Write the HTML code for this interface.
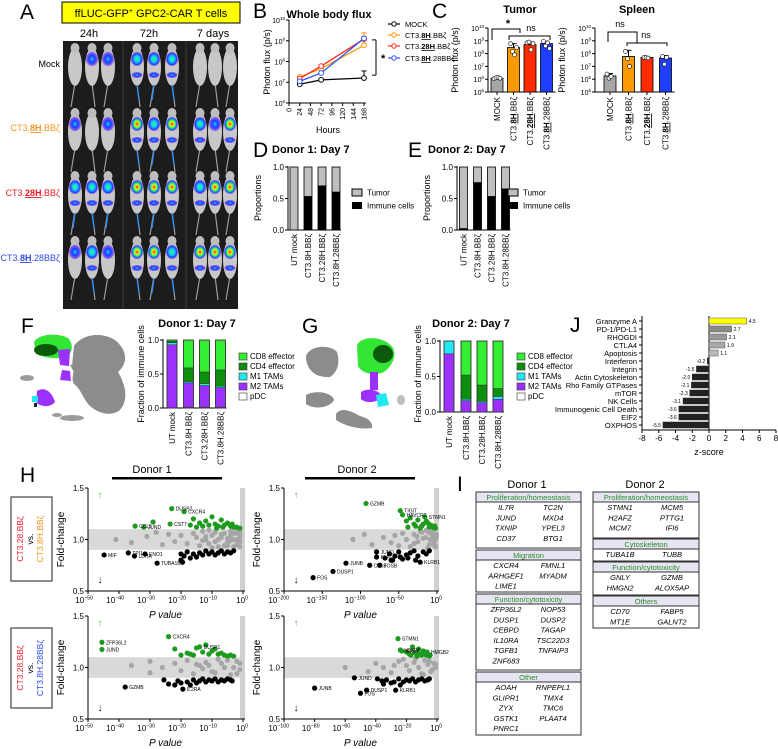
<!DOCTYPE html>
<html><head><meta charset="utf-8">
<style>
html,body{margin:0;padding:0;background:#fff;}
svg{display:block;font-family:"Liberation Sans",sans-serif;}
</style></head>
<body>
<svg id="fig" xmlns="http://www.w3.org/2000/svg" width="778" height="749" viewBox="0 0 778 749">
<defs>
<radialGradient id="gWeak"><stop offset="0" stop-color="#1ec8ff"/><stop offset="0.5" stop-color="#1a3cff"/><stop offset="1" stop-color="#7a2cff" stop-opacity="0.6"/></radialGradient>
<radialGradient id="gMed"><stop offset="0" stop-color="#38ff60"/><stop offset="0.45" stop-color="#10c8ff"/><stop offset="0.8" stop-color="#2040ff"/><stop offset="1" stop-color="#8030ff" stop-opacity="0.6"/></radialGradient>
<radialGradient id="gStrong"><stop offset="0" stop-color="#ff1010"/><stop offset="0.3" stop-color="#ffe020"/><stop offset="0.55" stop-color="#30ff50"/><stop offset="0.8" stop-color="#1060ff"/><stop offset="1" stop-color="#7a30ff" stop-opacity="0.6"/></radialGradient>
</defs>
<g id="root"></g>
</svg>
<script>
// ---------- DATA ----------
const fluxHours=[24,72,168];
const fluxMock=[8e6,1.3e7,1.6e7];
const flux8H=[1.8e7,4.5e7,6e8];
const flux28H=[1.5e7,6e7,1.2e9];
const flux8H28=[1.1e7,2.8e7,1.3e9];
const fluxErrTop168=[3.5e7,2.4e9,1.6e9,1.5e9];
const bTickHours=[0,24,48,72,96,120,144,168];
const logTicksB=[6,7,8,9,10];

const cGroups=["MOCK","8H","28H","8H28"];
const tumorMeans=[1.2e6,3e8,5e8,6e8];
const tumorErr=[1.5e6,6e8,8e8,9e8];
const tumorPts=[[1.1e6,1.3e6,1.4e6,1.2e6],[6e8,1.5e8,8e7,3e8],[7e8,8e8,2e8,6e8],[9e8,4e8,7e8,2.5e8]];
const spleenMeans=[1.8e6,6e7,5e7,4.5e7];
const spleenErr=[2.8e6,1.8e8,5.5e7,7e7];
const spleenPts=[[2.5e6,1.2e6,1.6e6],[1.5e8,4e7,1e7],[5e7,5e7,4.5e7],[6e7,1.5e7,5e7]];
const logTicksC=[5,6,7,8,9,10];

const propLabels=["UT mock","CT3.8H.BBζ","CT3.28H.BBζ","CT3.8H.28BBζ"];
const donor1Immune=[0,0.53,0.70,0.60];
const donor2Immune=[0.02,0.75,0.53,0.65];

const fracPDC1=[0.0,0.01,0.01,0.01];
const fracM2_1=[0.93,0.36,0.32,0.29];
const fracM1_1=[0.03,0.02,0.03,0.02];
const fracCD4_1=[0.02,0.20,0.17,0.24];
const fracCD8_1=[0.02,0.41,0.47,0.44];
const fracPDC2=[0.0,0.0,0.0,0.0];
const fracM2_2=[0.82,0.16,0.13,0.18];
const fracM1_2=[0.18,0.02,0.02,0.04];
const fracCD4_2=[0.0,0.34,0.23,0.11];
const fracCD8_2=[0.0,0.48,0.62,0.67];

const jLabels=["Granzyme A","PD-1/PD-L1","RHOGDI","CTLA4","Apoptosis","Interferon","Integrin","Actin Cytoskeleton","Rho Family GTPases","mTOR","NK Cells","Immunogenic Cell Death","EIF2","OXPHOS"];
const jValues=[4.5,2.7,2.1,1.9,1.1,-0.2,-1.5,-2.0,-2.1,-2.3,-3.1,-3.6,-3.6,-5.5];

const tlGreenP=[-34.8,-32,-23,-19,-29,-23.5,-16,-14,-12,-11,-10,-9,-8,-7,-6,-5,-4,-3,-2,-1,-13,-8.5,-6.5,-3.5,-15,-17];
const tlGreenFC=[1.13,1.12,1.30,1.27,1.17,1.15,1.20,1.16,1.18,1.14,1.22,1.15,1.13,1.19,1.14,1.16,1.13,1.12,1.12,1.11,1.13,1.11,1.12,1.15,1.12,1.14];
const tlBlackP=[-44.8,-37,-35,-31.6,-27.7,-20,-19,-18,-16,-15,-14,-13,-12,-11,-10,-9,-8,-7,-6,-5,-4,-3,-20,-17,-19.5];
const tlBlackFC=[0.85,0.87,0.84,0.86,0.77,0.80,0.84,0.88,0.86,0.83,0.87,0.85,0.89,0.86,0.88,0.85,0.87,0.89,0.86,0.88,0.87,0.89,0.86,0.82,0.78];
const tlGrayP=[-41,-36,-31,-28,-26,-24,-22,-20,-18,-16,-15,-14,-13,-12,-11,-10,-9,-8,-7,-6,-5,-4,-3,-2,-1,-12,-10,-8,-6,-4,-2,-1,-9,-7,-5,-3,-2,-1,-11,-13,-1,-2,-3,-1,-4,-5];
const tlGrayFC=[1.0,0.97,1.03,1.07,0.95,1.05,0.98,1.04,0.96,1.06,1.02,0.94,1.08,1.0,0.96,1.04,1.07,0.93,1.02,1.06,0.97,1.04,1.0,0.95,1.02,1.03,0.92,1.0,0.94,1.08,1.06,0.98,0.98,1.05,1.01,0.93,1.09,1.05,1.09,0.99,0.93,1.0,1.06,1.08,0.99,0.94];
const tlLabelText=["CCL5","JUND","DUSP2","CXCR4","CST7","MIF","TPI1","LDHA","ENO1","TUBA1B"];
const tlLabelP=[-34.8,-32,-23,-19,-23.5,-44.8,-37,-35,-31.6,-27.7];
const tlLabelFC=[1.13,1.12,1.30,1.27,1.15,0.85,0.87,0.84,0.86,0.77];

const trGreenP=[-92.8,-48,-45,-16,-40,-35,-30,-25,-20,-12,-8,-5,-3,-38,-28,-18,-10,-6,-2,-14,-22];
const trGreenFC=[1.35,1.28,1.24,1.22,1.18,1.21,1.15,1.19,1.13,1.16,1.14,1.12,1.13,1.12,1.13,1.15,1.12,1.13,1.11,1.18,1.11];
const trBlackP=[-162,-136,-119,-88,-75,-79,-79,-22,-68,-62,-58,-55,-50,-45,-40,-35,-30,-25,-18,-14,-10,-60,-48,-38,-28];
const trBlackFC=[0.63,0.69,0.77,0.75,0.75,0.88,0.83,0.78,0.82,0.86,0.80,0.84,0.88,0.81,0.85,0.87,0.89,0.84,0.88,0.86,0.89,0.80,0.83,0.82,0.80];
const trGrayP=[-110,-95,-85,-70,-60,-55,-50,-45,-40,-35,-30,-25,-20,-15,-10,-5,-2,-30,-22,-12,-8,-4,-1,-18,-14,-6,-3,-1,-26,-9,-2,-7,-11,-4];
const trGrayFC=[1.0,1.05,0.95,1.02,0.97,1.04,0.94,1.06,1.0,0.93,1.05,0.98,1.07,1.02,0.95,1.04,1.0,0.96,1.08,0.92,1.06,0.97,1.03,1.01,1.09,1.08,0.94,1.05,1.03,1.0,0.93,1.01,1.07,0.95];
const trLabelText=["GZMB","TIGIT","HAVCR2","STMN1","FOS","DUSP1","JUNB","CD69","FOSB","JUND","KLF","KLRB1"];
const trLabelP=[-92.8,-48,-45,-16,-162,-136,-119,-88,-75,-79,-79,-22];
const trLabelFC=[1.35,1.28,1.24,1.22,0.63,0.69,0.77,0.75,0.75,0.88,0.83,0.78];

const blGreenP=[-45.5,-45.5,-24,-14,-22,-18,-16,-13,-12,-11,-10,-9,-8,-7,-6,-5,-4,-3,-15,-20,-17];
const blGreenFC=[1.245,1.175,1.30,1.20,1.18,1.14,1.12,1.15,1.22,1.13,1.16,1.18,1.13,1.14,1.12,1.11,1.12,1.11,1.19,1.12,1.13];
const blBlackP=[-38,-19.4,-25.5,-24,-21,-18,-17,-16,-15,-14,-13,-12,-11,-10,-9,-8,-7,-6,-5,-4,-3.5,-22,-20];
const blBlackFC=[0.81,0.79,0.88,0.84,0.87,0.86,0.83,0.88,0.85,0.87,0.89,0.86,0.88,0.87,0.89,0.86,0.88,0.87,0.89,0.88,0.87,0.83,0.85];
const blGrayP=[-36,-30,-30,-26,-22,-20,-18,-16,-14,-12,-10,-8,-6,-4,-2,-1,-11,-9,-7,-5,-3,-1,-13,-15,-2];
const blGrayFC=[1.02,1.06,0.95,1.0,1.04,0.97,1.07,0.94,1.02,1.05,0.96,1.08,1.0,0.93,1.06,0.98,1.02,0.95,1.04,1.07,1.0,1.04,0.99,1.03,0.94];
const blLabelText=["ZFP36L2","JUND","CXCR4","DUSP1","GZMB","IL2RA"];
const blLabelP=[-45.5,-45.5,-24,-14,-38,-19.4];
const blLabelFC=[1.245,1.175,1.30,1.20,0.81,0.79];

const brGreenP=[-25.5,-24,-23,-6.5,-20,-18,-16,-14,-12,-10,-9,-8,-7,-5,-4.5,-13,-11,-17];
const brGreenFC=[1.28,1.17,1.16,1.15,1.15,1.13,1.20,1.14,1.18,1.12,1.16,1.13,1.12,1.11,1.12,1.11,1.13,1.12];
const brBlackP=[-80,-50,-46,-54,-27,-39,-36,-33,-30,-25,-22,-20,-18,-16,-14,-12,-10,-8,-6,-5,-35,-28,-24];
const brBlackFC=[0.80,0.75,0.78,0.90,0.78,0.89,0.87,0.88,0.85,0.89,0.86,0.88,0.87,0.89,0.86,0.88,0.89,0.87,0.88,0.89,0.84,0.86,0.83];
const brGrayP=[-60,-45,-40,-35,-30,-25,-20,-18,-15,-12,-10,-8,-6,-4,-2,-1,-22,-14,-9,-5,-3,-1,-28];
const brGrayFC=[1.0,0.96,1.04,1.0,0.95,1.06,1.02,0.97,1.05,1.0,0.94,1.07,1.03,0.96,1.04,1.0,1.08,1.09,0.93,1.06,0.98,1.03,1.02];
const brLabelText=["STMN1","H2AFZ","GNLY","HMGB2","JUNB","FOS","DUSP1","JUND","KLRB1"];
const brLabelP=[-25.5,-24,-23,-6.5,-80,-50,-46,-54,-27];
const brLabelFC=[1.28,1.17,1.16,1.15,0.80,0.75,0.78,0.90,0.78];

// ---------- helpers ----------
const NS="http://www.w3.org/2000/svg";
const root=document.getElementById('root');
function mk(tag,attrs,name,parent){
  const el=document.createElementNS(NS,tag);
  for(const k in attrs) el.setAttribute(k,attrs[k]);
  
  
  (parent||root).appendChild(el);
  return el;
}
function txt(x,y,s,o,name,parent){
  o=o||{};
  const a={x:x,y:y,'font-size':o.size||8,fill:o.fill||'#000','text-anchor':o.anchor||'start'};
  if(o.weight) a['font-weight']=o.weight;
  if(o.style) a['font-style']=o.style;
  if(o.rot!==undefined) a.transform='rotate('+o.rot+' '+x+' '+y+')';
  const t=mk('text',a,name,parent);
  t.textContent=s;
  return t;
}
function line(x1,y1,x2,y2,stroke,w,name,parent){
  return mk('line',{x1:x1,y1:y1,x2:x2,y2:y2,stroke:stroke||'#000','stroke-width':w||1},name,parent);
}
function powLabel(x,y,exp,name,size){
  size=size||7;
  const t=mk('text',{x:x,y:y,'font-size':size,'text-anchor':'end'},name);
  const a=document.createElementNS(NS,'tspan');a.textContent='10';t.appendChild(a);
  const b=document.createElementNS(NS,'tspan');b.textContent=String(exp).replace('-','−');
  b.setAttribute('font-size',size*0.65);b.setAttribute('dy',-size*0.45);t.appendChild(b);
  return t;
}
function carLabel(x,y,prefix,bold,suffix,o,name){
  o=o||{};
  const a={x:x,y:y,'font-size':o.size||8,fill:o.fill||'#000','text-anchor':o.anchor||'start'};
  if(o.rot!==undefined) a.transform='rotate('+o.rot+' '+x+' '+y+')';
  const t=mk('text',a,name);
  const p=document.createElementNS(NS,'tspan');p.textContent=prefix;t.appendChild(p);
  const b=document.createElementNS(NS,'tspan');b.textContent=bold;b.setAttribute('font-weight','bold');b.setAttribute('text-decoration','underline');t.appendChild(b);
  const s=document.createElementNS(NS,'tspan');s.textContent=suffix;t.appendChild(s);
  return t;
}
const lg=v=>Math.log10(v);

// ---------- panel letters ----------
[["A",20,19],["B",253,18],["C",432,18],["D",253,157],["E",408,157],["F",21,333],["G",302,333],["J",570,332],["H",20,482],["I",457,491]].forEach(p=>{
  txt(p[1],p[2],p[0],{size:21},'panel-label-'+p[0].toLowerCase());
});

// ---------- A ----------
mk('rect',{x:62,y:2,width:178,height:21,fill:'#ffff00',stroke:'#000','stroke-width':1},'title-box');
const tt=mk('text',{x:151,y:17,'font-size':11,'text-anchor':'middle'},'title-text');
tt.innerHTML='ffLUC-GFP<tspan font-size="7" dy="-4">+</tspan><tspan dy="4"> GPC2-CAR T cells</tspan>';
txt(89,37,"24h",{size:11,anchor:'middle'},'time-24h');
txt(149,37,"72h",{size:11,anchor:'middle'},'time-72h');
txt(213,37,"7 days",{size:11,anchor:'middle'},'time-7days');
mk('rect',{x:63,y:41,width:175,height:268,fill:'#1c1c1c'},'imaging-panel');
line(123,41,123,309,'#2c2c2c',2,'img-divider-1');line(186,41,186,309,'#2c2c2c',2,'img-divider-2');
txt(60,67,"Mock",{size:9,anchor:'end'},'row-label-mock');
carLabel(60,131,"CT3.","8H",".BBζ",{size:9,anchor:'end',fill:'#f7941d'},'row-label-8h');
carLabel(60,196,"CT3.","28H",".BBζ",{size:9,anchor:'end',fill:'#ee1c25'},'row-label-28h');
carLabel(60,261,"CT3.","8H",".28BBζ",{size:9,anchor:'end',fill:'#2f49e8'},'row-label-8h28');
const mouseX=[75,92,108,137,154,172,200,215,230];
const rowTop=[45,110,173,238];
const intens=[[0,1,1,2,2,2,0,0,0],[1,0,1,3,2,3,2,1,3],[2,2,2,3,3,3,2,3,3],[1,2,1,3,3,2,3,3,3]];
const gradName=['','url(#gWeak)','url(#gMed)','url(#gStrong)'];
rowTop.forEach((t,r)=>{
  mouseX.forEach((x,c)=>{
    const g=mk('g',{},'mouse-r'+(r+1)+'-c'+(c+1));
    line(x,t+38,x+(c%2?3:-4),t+62,'#9a9a9a',1.2,'mouse-tail',g);
    mk('ellipse',{cx:x,cy:t+22,rx:7,ry:19,fill:'#c8c8c8'},'mouse-body',g);
    mk('ellipse',{cx:x,cy:t+3,rx:4.5,ry:5,fill:'#bdbdbd'},'mouse-head',g);
    const k=intens[r][c];
    if(k>0){
      mk('ellipse',{cx:x,cy:t+14,rx:6,ry:7,fill:gradName[k]},'signal-blob',g);
      if(k>1) mk('ellipse',{cx:x,cy:t+30,rx:5.5,ry:3,fill:'url(#gWeak)'},'signal-blob-lower',g);
      if(k>1 && c<6) line(x,t+40,x+(c%2?2:-2),t+55,'#2a8cff',1.3,'signal-tail',g);
    }
  });
});

// ---------- B ----------
txt(329,18,"Whole body flux",{size:11,weight:'bold',anchor:'middle'},'flux-title');
const bx=h=>289+h*(75/168), by=v=>103-(lg(v)-6)*20.75;
line(289,20,289,103,'#000',1,'b-y-axis');line(289,103,366,103,'#000',1,'b-x-axis');
logTicksB.forEach(e=>{const y=by(Math.pow(10,e));line(286,y,289,y,'#000',1,'b-y-tick');powLabel(285,y+3,e,'b-y-label');});
bTickHours.forEach(h=>{const x=bx(h);line(x,103,x,106,'#000',1,'b-x-tick');txt(x+2.5,108,String(h),{size:7,anchor:'end',rot:-90},'b-x-label');});
txt(270,62,"Photon flux (p/s)",{size:9,anchor:'middle',rot:-90},'b-y-title');
txt(328,133,"Hours",{size:9,anchor:'middle'},'b-x-title');
const bSeries=[[fluxMock,'#000','mock'],[flux8H,'#ff9900','8h'],[flux28H,'#ff2a1a','28h'],[flux8H28,'#2a55ff','8h28']];
bSeries.forEach((s,i)=>{
  const ex=bx(168),ey=by(s[0][2]);line(ex,ey,ex,by(fluxErrTop168[i]),s[1],1,'b-err-'+s[2]);
  line(ex-2.5,by(fluxErrTop168[i]),ex+2.5,by(fluxErrTop168[i]),s[1],1,'b-errcap-'+s[2]);
  const pts=fluxHours.map((h,j)=>bx(h)+','+by(s[0][j])).join(' ');
  mk('polyline',{points:pts,fill:'none',stroke:s[1],'stroke-width':1.3},'b-line-'+s[2]);
  fluxHours.forEach((h,j)=>mk('circle',{cx:bx(h),cy:by(s[0][j]),r:2.4,fill:'#fff',stroke:s[1],'stroke-width':1},'b-point-'+s[2]));
});
line(376,by(1.1e9),376,by(2.2e7),'#000',1,'b-sig-bracket');line(372,by(1.1e9),376,by(1.1e9),'#000',1,'b-sig-tick1');line(372,by(2.2e7),376,by(2.2e7),'#000',1,'b-sig-tick2');
txt(381,62,"*",{size:11,weight:'bold'},'b-sig-star');
const legY=[24,35,46,58];
bSeries.forEach((s,i)=>{line(388,legY[i],400,legY[i],s[1],1.2,'b-legend-line');mk('circle',{cx:394,cy:legY[i],r:2.2,fill:'#fff',stroke:s[1]},'b-legend-marker');});
txt(405,legY[0]+3,"MOCK",{size:7.5},'b-legend-mock');
carLabel(405,legY[1]+3,"CT3.","8H",".BBζ",{size:7.5},'b-legend-8h');
carLabel(405,legY[2]+3,"CT3.","28H",".BBζ",{size:7.5},'b-legend-28h');
carLabel(405,legY[3]+3,"CT3.","8H",".28BBζ",{size:7.5},'b-legend-8h28');

// ---------- C ----------
const cy=v=>92-(lg(v)-5)*12.8;
const barCol=['#a6a6a6','#ff9900','#ff2a00','#1f3fff'];
function barPanel(ax,centers,means,errs,pts,name){
  line(ax,28,ax,92,'#000',1,name+'-y-axis');line(ax,92,centers[3]+9,92,'#000',1,name+'-x-axis');
  logTicksC.forEach(e=>{const y=cy(Math.pow(10,e));line(ax-3,y,ax,y,'#000',1,name+'-y-tick');powLabel(ax-4,y+3,e,name+'-y-label');});
  centers.forEach((c,i)=>{
    line(c,cy(means[i]),c,cy(errs[i]),'#000',1,name+'-err');line(c-3,cy(errs[i]),c+3,cy(errs[i]),'#000',1,name+'-errcap');
    mk('rect',{x:c-6,y:cy(means[i]),width:12,height:92-cy(means[i]),fill:barCol[i],stroke:'#000','stroke-width':0.8},name+'-bar-'+cGroups[i].toLowerCase());
    pts[i].forEach((v,j)=>mk('circle',{cx:c-3+j*2,cy:cy(v),r:2,fill:'#fff',stroke:'#000','stroke-width':0.6},name+'-dot'));
    line(c,92,c,95,'#000',1,name+'-x-tick');
  });
  txt(centers[0]+3,97,"MOCK",{size:8,anchor:'end',rot:-90},name+'-x-mock');
  carLabel(centers[1]+3,97,"CT3.","8H",".BBζ",{size:8,anchor:'end',rot:-90},name+'-x-8h');
  carLabel(centers[2]+3,97,"CT3.","28H",".BBζ",{size:8,anchor:'end',rot:-90},name+'-x-28h');
  carLabel(centers[3]+3,97,"CT3.","8H",".28BBζ",{size:8,anchor:'end',rot:-90},name+'-x-8h28');
  txt(ax-30,60,"Photon flux (p/s)",{size:9,anchor:'middle',rot:-90},name+'-y-title');
}
const tumorX=[497,513.5,530,546.5], spleenX=[610,628.5,647,665.5];
barPanel(488,tumorX,tumorMeans,tumorErr,tumorPts,'tumor');
barPanel(595,spleenX,spleenMeans,spleenErr,spleenPts,'spleen');
txt(520,13,"Tumor",{size:11,weight:'bold',anchor:'middle'},'tumor-title');
txt(637,13,"Spleen",{size:11,weight:'bold',anchor:'middle'},'spleen-title');
mk('polyline',{points:'492,40 492,29 520,29 520,33',fill:'none',stroke:'#000'},'tumor-bracket-star');
mk('polyline',{points:'509,40 509,36 550,36 550,40',fill:'none',stroke:'#000'},'tumor-bracket-ns');
txt(508,27,"*",{size:11,weight:'bold',anchor:'middle'},'tumor-star');
txt(531,31,"ns",{size:9,anchor:'middle'},'tumor-ns');
mk('polyline',{points:'608,42 608,32 637,32 637,43',fill:'none',stroke:'#000'},'spleen-bracket-1');
mk('polyline',{points:'627,46 627,43 667,43 667,46',fill:'none',stroke:'#000'},'spleen-bracket-2');
txt(620,27,"ns",{size:9,anchor:'middle'},'spleen-ns-1');
txt(646,38,"ns",{size:9,anchor:'middle'},'spleen-ns-2');

// ---------- D / E ----------
function propPanel(ax,centers,imm,title,tx,legX,name){
  txt(tx,153,title,{size:11,weight:'bold'},name+'-title');
  const py=v=>230-v*63;
  line(ax,166,ax,230,'#000',1,name+'-y-axis');line(ax,230,centers[3]+5,230,'#000',1,name+'-x-axis');
  [0,0.5,1].forEach(v=>{line(ax-3,py(v),ax,py(v),'#000',1,name+'-y-tick');txt(ax-4,py(v)+3,v.toFixed(1),{size:8,anchor:'end'},name+'-y-label');});
  centers.forEach((c,i)=>{
    mk('rect',{x:c-4,y:py(1),width:8,height:63*(1-imm[i]),fill:'#bfbfbf',stroke:'#000','stroke-width':0.8},name+'-bar-tumor');
    if(imm[i]>0) mk('rect',{x:c-4,y:py(imm[i]),width:8,height:63*imm[i],fill:'#000',stroke:'#000','stroke-width':0.8},name+'-bar-immune');
    txt(c+3,234,propLabels[i],{size:8,anchor:'end',rot:-90},name+'-x-label');
  });
  txt(ax-27,198,"Proportions",{size:9,anchor:'middle',rot:-90},name+'-y-title');
  mk('rect',{x:legX,y:189,width:10,height:7,fill:'#bfbfbf',stroke:'#000'},name+'-legend-tumor-swatch');
  txt(legX+15,195.5,"Tumor",{size:8},name+'-legend-tumor');
  mk('rect',{x:legX,y:202,width:10,height:7,fill:'#000'},name+'-legend-immune-swatch');
  txt(legX+15,208.5,"Immune cells",{size:8},name+'-legend-immune');
}
propPanel(288,[294,308,322,336],donor1Immune,"Donor 1: Day 7",272,352,'donor1-prop');
propPanel(457,[463.5,477.5,491.5,505.5],donor2Immune,"Donor 2: Day 7",428,508,'donor2-prop');

// ---------- F / G ----------
const segCols=['#ffffff','#9b30ff','#22e8f2','#0c8f0c','#33ee33'];
const segNames=['pdc','m2','m1','cd4','cd8'];
function fracPanel(ax,centers,y1,y0,segs,title,tcx,legX,name){
  const py=v=>y0-v*(y0-y1);
  txt(tcx,327,title,{size:11,weight:'bold',anchor:'middle'},name+'-title');
  line(ax,y1-1,ax,y0,'#000',1,name+'-y-axis');line(ax,y0,centers[3]+6,y0,'#000',1,name+'-x-axis');
  [0,0.5,1].forEach(v=>{line(ax-3,py(v),ax,py(v),'#000',1,name+'-y-tick');txt(ax-4,py(v)+3,v.toFixed(1),{size:8,anchor:'end'},name+'-y-label');});
  centers.forEach((c,i)=>{
    let acc=0;
    segs.forEach((s,k)=>{
      const v=s[i];
      if(v>0) mk('rect',{x:c-5,y:py(acc+v),width:10,height:v*(y0-y1),fill:segCols[k],stroke:'#333','stroke-width':0.5},name+'-seg-'+segNames[k]);
      acc+=v;
    });
    mk('rect',{x:c-5,y:py(1),width:10,height:y0-y1,fill:'none',stroke:'#333','stroke-width':0.8},name+'-bar-outline');
    txt(c+3,y0+4,propLabels[i],{size:8,anchor:'end',rot:-90},name+'-x-label');
  });
  txt(ax-19,374,"Fraction of immune cells",{size:9,anchor:'middle',rot:-90},name+'-y-title');
  const legT=["CD8 effector","CD4 effector","M1 TAMs","M2 TAMs","pDC"];
  const legC=[segCols[4],segCols[3],segCols[2],segCols[1],segCols[0]];
  legT.forEach((t,k)=>{mk('rect',{x:legX,y:353+k*10,width:8,height:7,fill:legC[k],stroke:'#333','stroke-width':0.6},name+'-legend-swatch');txt(legX+11,359+k*10,t,{size:8},name+'-legend-'+k);});
}
fracPanel(163,[172,188.5,204.5,220.5],340,408,[fracPDC1,fracM2_1,fracM1_1,fracCD4_1,fracCD8_1],"Donor 1: Day 7",197,239,'donor1-frac');
fracPanel(440,[449,466,482,498],341,412,[fracPDC2,fracM2_2,fracM1_2,fracCD4_2,fracCD8_2],"Donor 2: Day 7",471,517,'donor2-frac');

const uF=mk('g',{},'umap-donor1');
mk('path',{d:'M74,346 C85,330 112,333 120,345 C128,355 126,365 118,372 C124,382 130,398 120,410 C110,418 95,412 88,404 C82,396 80,388 74,384 C70,378 76,372 72,366 Z',fill:'#8c8c8c'},'umap-f-gray-main',uF);
mk('path',{d:'M70,365 C78,362 84,368 74,372 Z',fill:'#8c8c8c'},'umap-f-gray-bridge',uF);
mk('path',{d:'M34,342 C40,333 58,333 68,338 C74,344 72,352 68,356 C60,360 44,358 36,354 Z',fill:'#33e633'},'umap-f-cd8',uF);
mk('ellipse',{cx:46,cy:350,rx:12,ry:6,fill:'#0a5a0a'},'umap-f-cd4',uF);
mk('path',{d:'M58,350 L70,349 L69,366 L60,365 Z',fill:'#9b30ff'},'umap-f-m2-1',uF);
mk('path',{d:'M62,370 L70,371 L71,381 L60,380 Z',fill:'#9b30ff'},'umap-f-m2-2',uF);
mk('path',{d:'M37,391 C45,386 52,392 55,402 C50,408 40,407 36,402 Z',fill:'#9b30ff'},'umap-f-m2-3',uF);
mk('rect',{x:32,y:396,width:6,height:6,fill:'#22e8f2'},'umap-f-m1',uF);
mk('rect',{x:34,y:403,width:3,height:4,fill:'#222'},'umap-f-pdc',uF);
mk('ellipse',{cx:27,cy:378,rx:7,ry:3,fill:'#9c9c9c'},'umap-f-gray-small1',uF);
mk('ellipse',{cx:72,cy:418,rx:12,ry:3,fill:'#9c9c9c'},'umap-f-gray-small2',uF);
mk('ellipse',{cx:57,cy:415,rx:5,ry:2,fill:'#9c9c9c'},'umap-f-gray-small3',uF);
const uG=mk('g',{},'umap-donor2');
mk('path',{d:'M306,356 C310,345 330,344 337,352 C340,362 338,372 330,377 C318,378 306,372 306,356 Z',fill:'#8c8c8c'},'umap-g-gray-1',uG);
mk('path',{d:'M306,395 C315,390 332,392 334,400 C330,408 314,410 306,404 Z',fill:'#8c8c8c'},'umap-g-gray-2',uG);
mk('path',{d:'M336,414 C342,406 352,412 360,416 C368,418 373,422 372,428 C360,430 345,426 336,420 Z',fill:'#8c8c8c'},'umap-g-gray-3',uG);
mk('path',{d:'M357,345 C362,335 385,336 393,348 C397,356 392,366 384,372 C375,376 362,374 358,366 Z',fill:'#33e633'},'umap-g-cd8',uG);
mk('ellipse',{cx:383,cy:354,rx:10,ry:9,fill:'#0a5a0a'},'umap-g-cd4',uG);
mk('path',{d:'M370,372 L378,372 L378,390 L370,390 Z',fill:'#9b30ff'},'umap-g-m2-1',uG);
mk('path',{d:'M361,392 C366,388 378,389 382,396 C378,403 366,404 361,399 Z',fill:'#9b30ff'},'umap-g-m2-2',uG);
mk('path',{d:'M376,395 L386,393 L389,405 L378,407 Z',fill:'#22e8f2'},'umap-g-m1',uG);
mk('ellipse',{cx:401,cy:400,rx:4,ry:5,fill:'#bdbdbd'},'umap-g-gray-small',uG);

// ---------- J ----------
const jz=v=>709+v*8.375, jy=i=>321+i*8;
line(642,316,642,430,'#000',1,'j-y-axis');line(642,430,776,430,'#000',1,'j-x-axis');line(709,316,709,430,'#000',1,'j-zero-line');
for(let v=-8;v<=8;v+=2){line(jz(v),430,jz(v),433,'#000',1,'j-x-tick');txt(jz(v),441,String(v),{size:8,anchor:'middle'},'j-x-label');}
txt(709,455,"z-score",{size:9,anchor:'middle'},'j-x-title');
const jPosCol=['#ffff00','#8a8a8a','#999','#a8a8a8','#b8b8b8'];
jLabels.forEach((l,i)=>{
  const v=jValues[i],y=jy(i);
  line(639,y,642,y,'#000',1,'j-y-tick');
  txt(637,y+3,l,{size:7.5,anchor:'end'},'j-label');
  const x0=Math.min(jz(0),jz(v)),w=Math.abs(jz(v)-jz(0));
  mk('rect',{x:x0,y:y-3,width:w,height:6,fill:v>0?jPosCol[i]:'#222',stroke:v>0?'#555':'#222','stroke-width':0.5},'j-bar');
  txt(v>0?jz(v)+2:jz(v)-2,y+2,v.toFixed(1),{size:5,anchor:v>0?'start':'end'},'j-value');
});

// ---------- H ----------
txt(152,473,"Donor 1",{size:11,anchor:'middle'},'h-donor1-title');
mk('rect',{x:112,y:477,width:110,height:2.5,fill:'#000'},'h-donor1-bar');
txt(357,473,"Donor 2",{size:11,anchor:'middle'},'h-donor2-title');
mk('rect',{x:305,y:477,width:110,height:2.5,fill:'#000'},'h-donor2-bar');
function volcano(cfg){
  const {x0,x1,lpMin,yTop,yBot,ticks,name}=cfg;
  const px=lp=>x0+(lp-lpMin)/(-lpMin)*(x1-x0);
  const py=fc=>yBot-(fc-0.5)*(yBot-yTop);
  mk('rect',{x:x0,y:py(1.1),width:x1-x0,height:py(0.9)-py(1.1),fill:'#d9d9d9'},name+'-ns-band');
  mk('rect',{x:x1-3,y:yTop,width:5,height:yBot-yTop,fill:'#d0d0d0'},name+'-p-band');
  cfg.gray[0].forEach((p,i)=>mk('circle',{cx:px(p),cy:py(cfg.gray[1][i]),r:2.6,fill:'#a6a6a6'},name+'-gray-point'));
  cfg.green[0].forEach((p,i)=>mk('circle',{cx:px(p),cy:py(cfg.green[1][i]),r:2.6,fill:'#1e9a1e'},name+'-up-point'));
  cfg.black[0].forEach((p,i)=>mk('circle',{cx:px(p),cy:py(cfg.black[1][i]),r:2.6,fill:'#000'},name+'-down-point'));
  cfg.labels[0].forEach((t,i)=>{
    const x=px(cfg.labels[1][i]),y=py(cfg.labels[2][i]);
    txt(x+4,y+2,t,{size:5},name+'-gene-label');
  });
  line(x0,yTop,x0,yBot,'#000',1,name+'-y-axis');line(x0,yBot,x1+2,yBot,'#000',1,name+'-x-axis');
  [0.5,1.0,1.5].forEach(v=>{line(x0-3,py(v),x0,py(v),'#000',1,name+'-y-tick');txt(x0-4,py(v)+3,v.toFixed(1),{size:8,anchor:'end'},name+'-y-label');});
  ticks.forEach(e=>{const x=px(e);line(x,yBot,x,yBot+3,'#000',1,name+'-x-tick');powLabel(x+5,yBot+12,e,name+'-x-label',8);});
  const pv=mk('text',{x:(x0+x1)/2,y:yBot+27,'font-size':10,'text-anchor':'middle','font-style':'italic'},name+'-x-title');
  pv.textContent='P value';
  txt(x0-24,(yTop+yBot)/2,"Fold-change",{size:10,anchor:'middle',rot:-90},name+'-y-title');
  txt(x0+12,yTop+10,"↑",{size:10,fill:'#5cb85c',anchor:'middle'},name+'-up-arrow');
  txt(x0+12,yBot-8,"↓",{size:10,anchor:'middle'},name+'-down-arrow');
}
volcano({x0:88,x1:243,lpMin:-50,yTop:488,yBot:591,ticks:[-50,-40,-30,-20,-10,0],name:'volcano-d1-top',gray:[tlGrayP,tlGrayFC],green:[tlGreenP,tlGreenFC],black:[tlBlackP,tlBlackFC],labels:[tlLabelText,tlLabelP,tlLabelFC]});
volcano({x0:284,x1:437,lpMin:-200,yTop:488,yBot:591,ticks:[-200,-150,-100,-50,0],name:'volcano-d2-top',gray:[trGrayP,trGrayFC],green:[trGreenP,trGreenFC],black:[trBlackP,trBlackFC],labels:[trLabelText,trLabelP,trLabelFC]});
volcano({x0:88,x1:243,lpMin:-50,yTop:616,yBot:719,ticks:[-50,-40,-30,-20,-10,0],name:'volcano-d1-bottom',gray:[blGrayP,blGrayFC],green:[blGreenP,blGreenFC],black:[blBlackP,blBlackFC],labels:[blLabelText,blLabelP,blLabelFC]});
volcano({x0:284,x1:437,lpMin:-100,yTop:616,yBot:719,ticks:[-100,-80,-60,-40,-20,0],name:'volcano-d2-bottom',gray:[brGrayP,brGrayFC],green:[brGreenP,brGreenFC],black:[brBlackP,brBlackFC],labels:[brLabelText,brLabelP,brLabelFC]});
function compBox(y0,y1,second,col,name){
  mk('rect',{x:11,y:y0,width:41,height:y1-y0,fill:'#fff',stroke:'#444','stroke-width':1.2},name+'-box');
  const c=(y0+y1)/2;
  txt(23,c,"CT3.28.BBζ",{size:8.5,fill:'#ee1c25',anchor:'middle',rot:-90},name+'-group1');
  txt(33,c,"vs.",{size:8.5,anchor:'middle',rot:-90},name+'-vs');
  txt(43,c,second,{size:8.5,fill:col,anchor:'middle',rot:-90},name+'-group2');
}
compBox(497,581,"CT3.8H.BBζ",'#f7941d','comparison-top');
compBox(628,708,"CT3.8H.28BBζ",'#2f49e8','comparison-bottom');

// ---------- I ----------
txt(527,488,"Donor 1",{size:11,anchor:'middle'},'i-donor1-title');
txt(645,488,"Donor 2",{size:11,anchor:'middle'},'i-donor2-title');
function geneTable(x0,x1,c1,c2,sections,name){
  sections.forEach(s=>{
    mk('rect',{x:x0,y:s.h,width:x1-x0,height:10,fill:'#e6e6f2',stroke:'#333','stroke-width':1},name+'-header-box');
    txt((x0+x1)/2,s.h+8,s.t,{size:7.5,fill:'#2a8a2a',anchor:'middle'},name+'-header');
    mk('rect',{x:x0,y:s.h+10,width:x1-x0,height:s.b-s.h-10,fill:'#fff',stroke:'#333','stroke-width':1},name+'-body-box');
    s.rows.forEach((r,i)=>{
      const y=s.h+18+i*10.3;
      txt(c1,y,r[0],{size:7.5,style:'italic',anchor:'middle'},name+'-gene');
      if(r[1]) txt(c2,y,r[1],{size:7.5,style:'italic',anchor:'middle'},name+'-gene');
    });
  });
}
geneTable(476,581,506,553,[
 {h:492,b:548,t:"Proliferation/homeostasis",rows:[["IL7R","TC2N"],["JUND","MXD4"],["TXNIP","YPEL3"],["CD37","BTG1"]]},
 {h:550,b:592,t:"Migration",rows:[["CXCR4","FMNL1"],["ARHGEF1","MYADM"],["LIME1",""]]},
 {h:594,b:670,t:"Function/cytotoxicity",rows:[["ZFP36L2","NOP53"],["DUSP1","DUSP2"],["CEBPD","TAGAP"],["IL10RA","TSC22D3"],["TGFB1","TNFAIP3"],["ZNF683",""]]},
 {h:672,b:735,t:"Other",rows:[["AOAH","RNPEPL1"],["GLIPR1","TMX4"],["ZYX","TMC6"],["GSTK1","PLAAT4"],["PNRC1",""]]}
],'i-donor1-table');
geneTable(593,699,620,672,[
 {h:492,b:538,t:"Proliferation/homeostasis",rows:[["STMN1","MCM5"],["H2AFZ","PTTG1"],["MCM7","IFI6"]]},
 {h:539,b:561,t:"Cytoskeleton",rows:[["TUBA1B","TUBB"]]},
 {h:562,b:595,t:"Function/cytotoxicity",rows:[["GNLY","GZMB"],["HMGN2","ALOX5AP"]]},
 {h:596,b:628,t:"Others",rows:[["CD70","FABP5"],["MT1E","GALNT2"]]}
],'i-donor2-table');
</script>
</body></html>
